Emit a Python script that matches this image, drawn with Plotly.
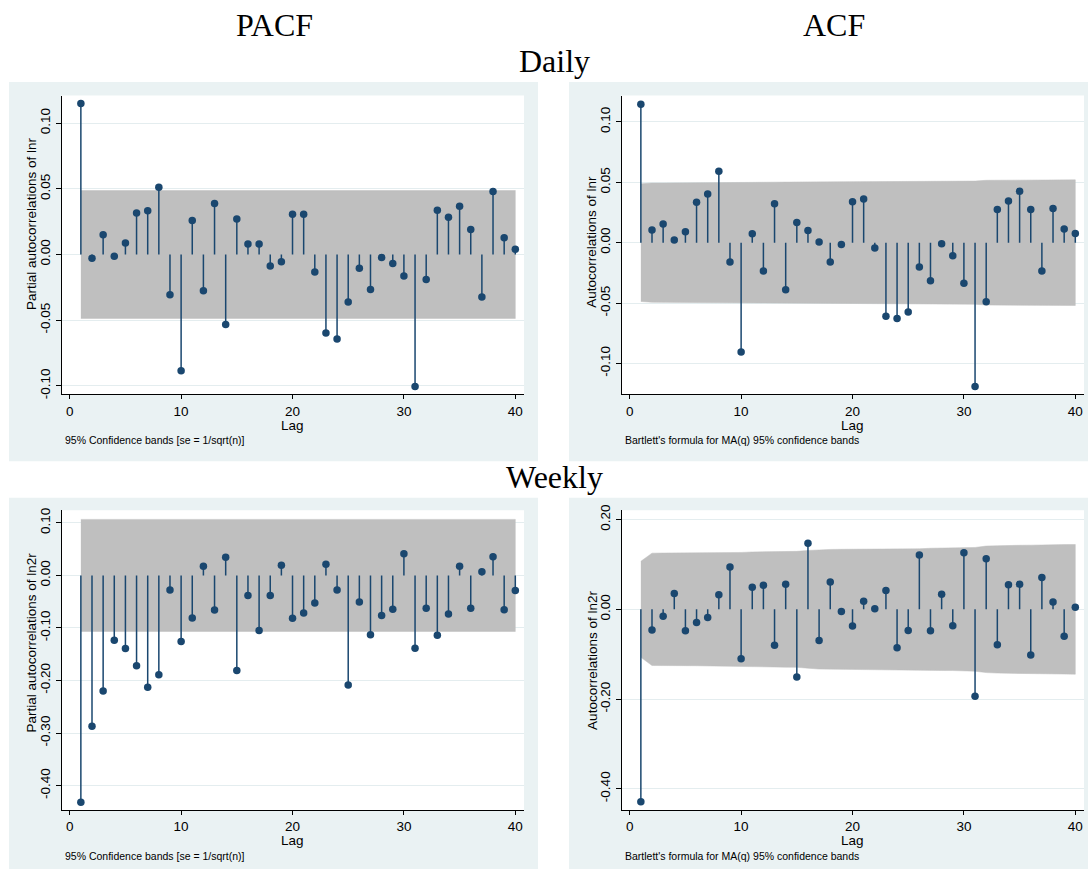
import math
import plotly.graph_objects as go

W, H = 1088, 876

LAGS = list(range(1, 41))

PACF_DAILY = [0.115, -0.0028, 0.015, -0.0013, 0.0088, 0.0316, 0.0333, 0.0511, -0.0306, -0.0885,
              0.0258, -0.0276, 0.0388, -0.0534, 0.0271, 0.008, 0.008, -0.0088, -0.0055, 0.0306,
              0.0306, -0.0133, -0.0597, -0.0644, -0.0361, -0.0105, -0.0266, -0.0023, -0.0068, -0.0163,
              -0.1005, -0.019, 0.0336, 0.0283, 0.0368, 0.019, -0.0323, 0.0479, 0.0128, 0.004]

ACF_DAILY = [0.1147, 0.0104, 0.0155, 0.0022, 0.009, 0.0335, 0.0403, 0.0591, -0.0161, -0.0905,
             0.0074, -0.0234, 0.0322, -0.039, 0.0166, 0.0101, 0.0005, -0.0161, -0.0016, 0.0338,
             0.0362, -0.0044, -0.061, -0.0627, -0.0575, -0.0202, -0.0316, -0.0008, -0.0109, -0.0335,
             -0.119, -0.049, 0.0275, 0.0346, 0.0425, 0.0275, -0.0234, 0.0283, 0.0114, 0.0076]

PACF_WEEKLY = [-0.432, -0.287, -0.220, -0.1234, -0.139, -0.172, -0.213, -0.189, -0.0276, -0.126,
               -0.081, 0.0175, -0.066, 0.0345, -0.181, -0.038, -0.105, -0.038, 0.0194, -0.0815,
               -0.0714, -0.0526, 0.0213, -0.0276, -0.2086, -0.0508, -0.1128, -0.0764, -0.0645, 0.0414,
               -0.1385, -0.0627, -0.114, -0.0733, 0.0175, -0.0627, 0.0069, 0.0357, -0.0652, -0.0288]

ACF_WEEKLY = [-0.429, -0.0462, -0.0154, 0.0352, -0.0477, -0.0293, -0.0183, 0.0323, 0.0946, -0.110,
              0.0492, 0.0536, -0.080, 0.0558, -0.151, 0.1475, -0.0697, 0.0609, -0.0051, -0.0374,
              0.0183, 0.0015, 0.0418, -0.0858, -0.047, 0.121, -0.0477, 0.0337, -0.0367, 0.126,
              -0.1937, 0.113, -0.0792, 0.055, 0.0558, -0.102, 0.0712, 0.0161, -0.0602, 0.0044]

# 95% band half-widths for the PACF panels
PACF_BAND_DAILY = 0.0487
PACF_BAND_WEEKLY = 0.1067
# sample sizes implied by the bands (used for Bartlett's MA(q) bands of the ACF)
N_DAILY = 1620
N_WEEKLY = 335

X_TICKS = [0, 10, 20, 30, 40]
Y_TICKS_DAILY = [-0.10, -0.05, 0.0, 0.05, 0.10]
Y_TICKTEXT_DAILY = ["-0.10", "-0.05", "0.00", "0.05", "0.10"]
Y_TICKS_PACF_W = [-0.40, -0.30, -0.20, -0.10, 0.0, 0.10]
Y_TICKTEXT_PACF_W = ["-0.40", "-0.30", "-0.20", "-0.10", "0.00", "0.10"]
Y_TICKS_ACF_W = [-0.40, -0.20, 0.0, 0.20]
Y_TICKTEXT_ACF_W = ["-0.40", "-0.20", "0.00", "0.20"]

NAVY = "#1A476F"
BAND = "#BFBFBF"
PANEL_BG = "#EAF2F3"
GRID = "#E4EDEF"
SANS = "Liberation Sans, Arial, sans-serif"
SERIF = "Liberation Serif, Times New Roman, serif"


def bartlett(acf, n):
    out = []
    s = 0.0
    for r in acf:
        out.append(1.96 * math.sqrt((1 + 2 * s) / n))
        s += r * r
    return out


def fx(px):
    return px / W


def fy(py):
    return 1 - py / H


panels = [
    dict(vals=PACF_DAILY, band=[PACF_BAND_DAILY] * 40, px=(61.7, 524), py=(90.7, 393.3),
         yr=[-0.1065, 0.121], yt=Y_TICKS_DAILY, ytt=Y_TICKTEXT_DAILY,
         ytitle="Partial autocorrelations of lnr", ytx=31.7, yty=221,
         note="95% Confidence bands [se = 1/sqrt(n)]", notex=63.3, notey=440, lagy=424.5),
    dict(vals=ACF_DAILY, band=bartlett(ACF_DAILY, N_DAILY), px=(621.7, 1084), py=(90.7, 393.3),
         yr=[-0.1256, 0.1218], yt=Y_TICKS_DAILY, ytt=Y_TICKTEXT_DAILY,
         ytitle="Autocorrelations of lnr", ytx=591.7, yty=239,
         note="Bartlett's formula for MA(q) 95% confidence bands", notex=623.3, notey=440, lagy=424.5),
    dict(vals=PACF_WEEKLY, band=[PACF_BAND_WEEKLY] * 40, px=(61.7, 524), py=(510.7, 814.3),
         yr=[-0.4467, 0.124], yt=Y_TICKS_PACF_W, ytt=Y_TICKTEXT_PACF_W,
         ytitle="Partial autocorrelations of ln2r", ytx=31.7, yty=645,
         note="95% Confidence bands [se = 1/sqrt(n)]", notex=63.3, notey=860.5, lagy=845.5),
    dict(vals=ACF_WEEKLY, band=bartlett(ACF_WEEKLY, N_WEEKLY), px=(621.7, 1084), py=(510.7, 814.3),
         yr=[-0.4475, 0.2208], yt=Y_TICKS_ACF_W, ytt=Y_TICKTEXT_ACF_W,
         ytitle="Autocorrelations of ln2r", ytx=591.7, yty=662.5,
         note="Bartlett's formula for MA(q) 95% confidence bands", notex=623.3, notey=860.5, lagy=845.5),
]

fig = go.Figure()
layout = dict(
    width=W, height=H, margin=dict(l=0, r=0, t=0, b=0),
    paper_bgcolor="white", plot_bgcolor="white", showlegend=False,
    font=dict(family=SANS, size=13.5, color="black"),
)
shapes = []
annotations = []

# panel (graph region) backgrounds
for (x0, x1, y0, y1) in [(9, 538, 77, 461), (569, 1088, 77, 461), (9, 538, 498, 874), (569, 1088, 498, 874)]:
    shapes.append(dict(type="rect", xref="paper", yref="paper", x0=fx(x0), x1=fx(x1), y0=fy(y1), y1=fy(y0),
                       fillcolor=PANEL_BG, line=dict(width=0), layer="below"))

for i, p in enumerate(panels):
    k = "" if i == 0 else str(i + 1)
    xa, ya = "x" + k, "y" + k
    shapes.append(dict(type="rect", xref="paper", yref="paper", x0=fx(p["px"][0]), x1=fx(p["px"][1]),
                       y0=fy(p["py"][1]), y1=fy(p["py"][0]), fillcolor="white", line=dict(width=0), layer="below"))
    up = p["band"]
    lo = [-b for b in up]
    fig.add_trace(go.Scatter(x=LAGS + LAGS[::-1], y=up + lo[::-1], fill="toself", fillcolor=BAND,
                             line=dict(width=0.5, color=BAND), mode="lines", hoverinfo="skip",
                             xaxis=xa, yaxis=ya))
    sx, sy = [], []
    for lag, v in zip(LAGS, p["vals"]):
        sx += [lag, lag, None]
        sy += [0, v, None]
    fig.add_trace(go.Scatter(x=sx, y=sy, mode="lines", line=dict(color=NAVY, width=1.5),
                             hoverinfo="skip", xaxis=xa, yaxis=ya))
    fig.add_trace(go.Scatter(x=LAGS, y=p["vals"], mode="markers",
                             marker=dict(color=NAVY, size=7.5, line=dict(width=0)),
                             xaxis=xa, yaxis=ya))
    layout["xaxis" + k] = dict(
        domain=[fx(p["px"][0]), fx(p["px"][1])], anchor=ya, range=[-0.72, 40.78],
        tickvals=X_TICKS, ticks="outside", ticklen=4, tickwidth=1, tickcolor="black",
        showgrid=False, zeroline=False, showline=True, linecolor="black", linewidth=1,
        tickfont=dict(family=SANS, size=13.5, color="black"),
    )
    layout["yaxis" + k] = dict(
        domain=[fy(p["py"][1]), fy(p["py"][0])], anchor=xa, range=p["yr"],
        tickvals=p["yt"], ticktext=p["ytt"], tickangle=-90,
        ticks="outside", ticklen=5, tickwidth=1, tickcolor="black",
        showgrid=True, gridcolor=GRID, gridwidth=1.2, zeroline=False,
        showline=True, linecolor="black", linewidth=1,
        tickfont=dict(family=SANS, size=13.5, color="black"),
    )
    annotations.append(dict(text=p["ytitle"], x=fx(p["ytx"]), y=fy(p["yty"]), xref="paper", yref="paper",
                            textangle=-90, showarrow=False, xanchor="center", yanchor="middle",
                            font=dict(family=SANS, size=13.5, color="black")))
    annotations.append(dict(text="Lag", x=fx((p["px"][0] + p["px"][1]) / 2), y=fy(p["lagy"]),
                            xref="paper", yref="paper", showarrow=False, xanchor="center", yanchor="middle",
                            font=dict(family=SANS, size=13.5, color="black")))
    annotations.append(dict(text=p["note"], x=fx(p["notex"]), y=fy(p["notey"]), xref="paper", yref="paper",
                            showarrow=False, xanchor="left", yanchor="middle",
                            font=dict(family=SANS, size=10.5, color="black")))

for text, x, y in [("PACF", 274, 19.5), ("ACF", 834.3, 19.0), ("Daily", 554, 56.0), ("Weekly", 554.5, 476.5)]:
    annotations.append(dict(text=text, x=fx(x), y=fy(y), xref="paper", yref="paper", showarrow=False,
                            xanchor="center", yanchor="middle",
                            font=dict(family=SERIF, size=32, color="black")))

layout["shapes"] = shapes
layout["annotations"] = annotations
fig.update_layout(**layout)
fig.write_html("out.html")
